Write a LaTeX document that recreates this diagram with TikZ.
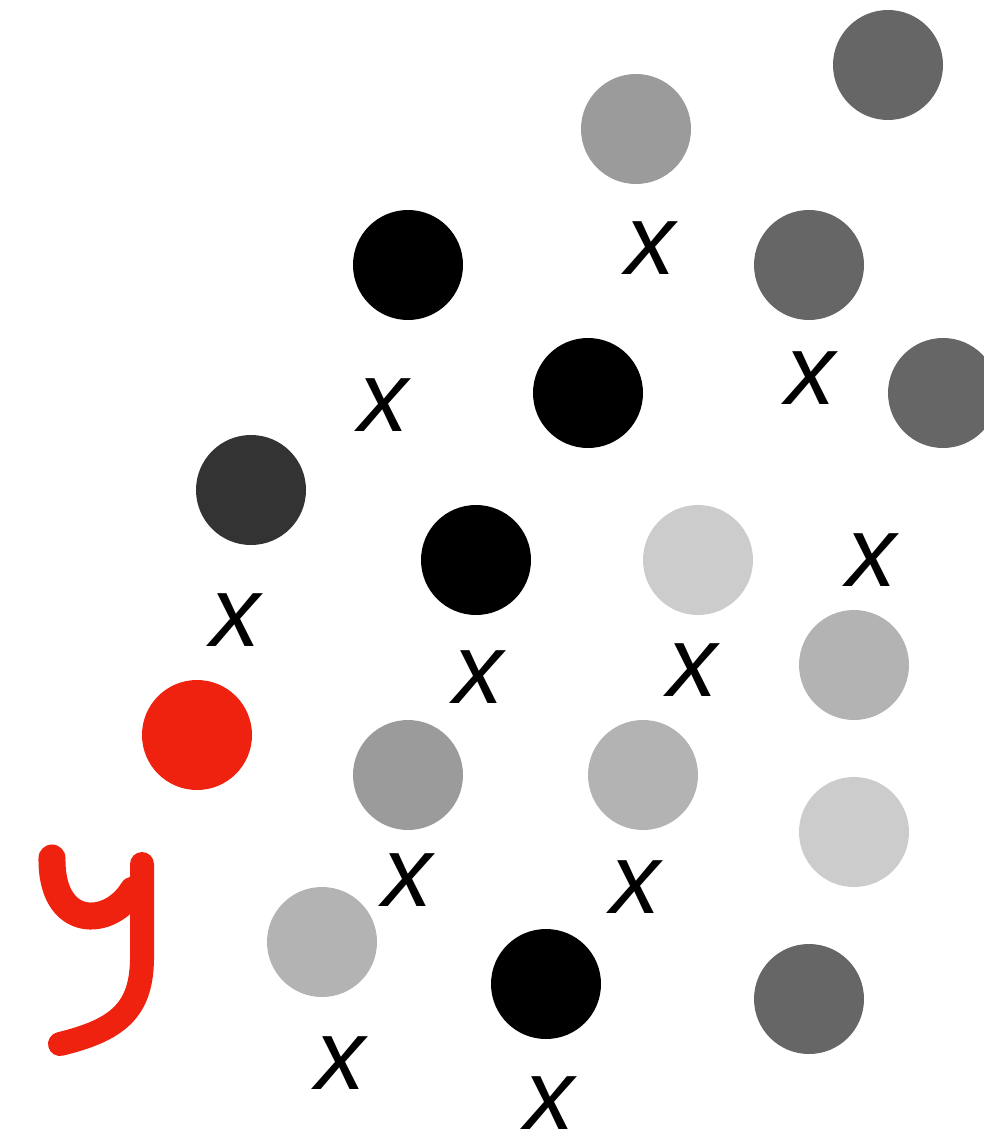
\documentclass[tikz,border=0pt]{standalone}
\usepackage{fontspec}
\newfontfamily\xfont{Liberation Sans}
\definecolor{gA}{HTML}{666666}
\definecolor{gB}{HTML}{9B9B9B}
\definecolor{gC}{HTML}{333333}
\definecolor{gD}{HTML}{CCCCCC}
\definecolor{gE}{HTML}{B3B3B3}
\definecolor{redY}{HTML}{EE220F}
\tikzset{
  dot/.style={circle, minimum size=110pt, inner sep=0pt, fill=#1},
  xlab/.style={font=\xfont\itshape\fontsize{100}{100}\selectfont, inner sep=0pt, text=black},
  ystroke/.style={redY, line cap=round, line join=round}
}
\begin{document}
\begin{tikzpicture}[x=1pt,y=-1pt]
\useasboundingbox (0,0) rectangle (984,1129);
\clip (0,0) rectangle (984,1129);
\node[dot=gA] (c1) at (888,65) {};
\node[dot=gB] (c2) at (636,129) {};
\node[dot=black] (c3) at (408,265) {};
\node[dot=gA] (c4) at (809,265) {};
\node[dot=black] (c5) at (588,393) {};
\node[dot=gA] (c6) at (943,393) {};
\node[dot=gC] (c7) at (251,490) {};
\node[dot=black] (c8) at (476,560) {};
\node[dot=gD] (c9) at (698,560) {};
\node[dot=gE] (c10) at (854,665) {};
\node[dot=redY] (c11) at (197,735) {};
\node[dot=gB] (c12) at (408,775) {};
\node[dot=gE] (c13) at (643,775) {};
\node[dot=gD] (c14) at (854,832) {};
\node[dot=gE] (c15) at (322,942) {};
\node[dot=black] (c16) at (546,984) {};
\node[dot=gA] (c17) at (809,999) {};
\node[xlab] (x1) at (650,248) {x};
\node[xlab] (x2) at (383,405) {x};
\node[xlab] (x3) at (810,378) {x};
\node[xlab] (x4) at (235,620) {x};
\node[xlab] (x5) at (871,560) {x};
\node[xlab] (x6) at (478,677) {x};
\node[xlab] (x7) at (692,670) {x};
\node[xlab] (x8) at (407,880) {x};
\node[xlab] (x9) at (635,887) {x};
\node[xlab] (x10) at (340,1063) {x};
\node[xlab] (x11) at (549,1103) {x};
\draw[ystroke, line width=27pt]
  (52,858) .. controls (51,930) and (110,928) .. (133,890);
\draw[ystroke, line width=24pt]
  (142,864) -- (142,960) .. controls (141,1010) and (118,1030) .. (60,1044);
\end{tikzpicture}
\end{document}
